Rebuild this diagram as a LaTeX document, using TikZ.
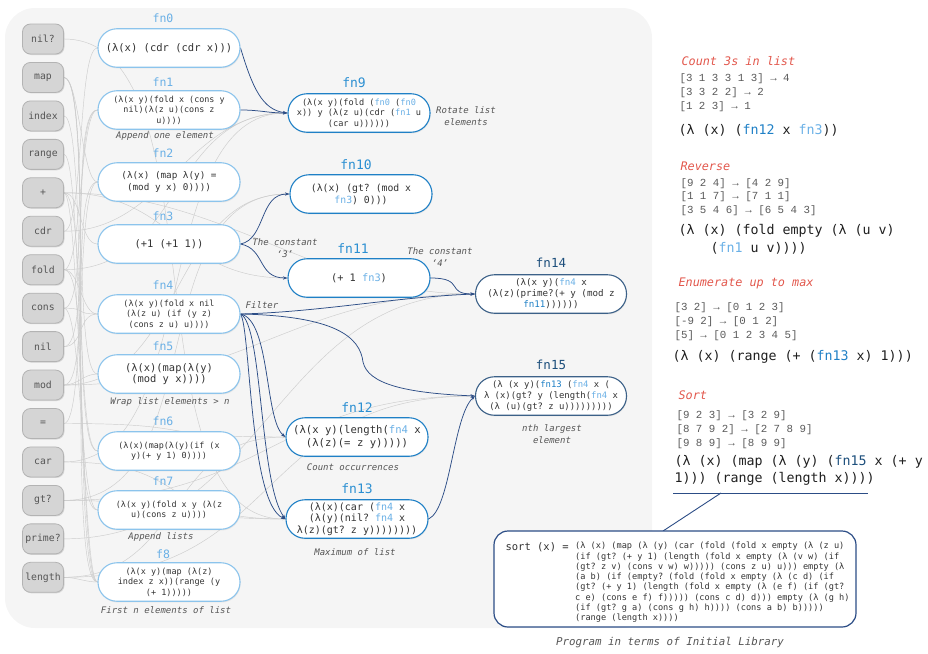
\documentclass[tikz,border=0pt]{standalone}
\usepackage{fontspec}
\setmainfont{DejaVu Sans}
\setmonofont{DejaVu Sans Mono}
\newfontfamily\exfont{Liberation Mono}
\usetikzlibrary{arrows.meta,shadows,backgrounds}
\definecolor{panel}{HTML}{F5F5F5}
\definecolor{lblue}{HTML}{8CC4EC}
\definecolor{lbluet}{HTML}{6AB0E6}
\definecolor{mblue}{HTML}{1F80C6}
\definecolor{mbluet}{HTML}{2B8FD2}
\definecolor{dblue}{HTML}{3C6188}
\definecolor{dbluet}{HTML}{1D4F7C}
\definecolor{navy}{HTML}{2C4D86}
\definecolor{txt}{HTML}{333333}
\definecolor{capgray}{HTML}{555555}
\definecolor{redt}{HTML}{E2574C}
\definecolor{exgray}{HTML}{5A5A5A}
\definecolor{primfill}{HTML}{D5D5D5}
\definecolor{primdraw}{HTML}{B3B3B3}
\definecolor{edgegray}{HTML}{CDCDCD}
\newcommand{\fs}[2]{\fontsize{#1}{#2}\selectfont}
\newcommand{\la}[1]{\textcolor{lbluet}{#1}}
\newcommand{\ma}[1]{\textcolor{mblue}{#1}}
\newcommand{\da}[1]{\textcolor{dbluet}{#1}}
\tikzset{
 prim/.style={draw=primdraw, fill=primfill, rounded corners=8pt, minimum width=41pt, minimum height=30pt, inner sep=0pt, font=\ttfamily\fs{9.8}{11}, text=capgray, line width=0.8pt, drop shadow={shadow xshift=1pt, shadow yshift=-1pt, opacity=0.25}},
 fnbox/.style={draw, fill=white, rounded corners=19pt, minimum width=142pt, minimum height=38.5pt, inner sep=1pt, align=center, text=txt, line width=1.1pt, drop shadow={shadow xshift=0.6pt, shadow yshift=-1.2pt, opacity=0.15}},
 lbox/.style={fnbox, draw=lblue},
 mbox/.style={fnbox, draw=mblue},
 dbox/.style={fnbox, draw=dblue, minimum width=151pt},
 flab/.style={font=\ttfamily\fs{11.5}{12}},
 mlab/.style={font=\ttfamily\fs{13}{14}},
 capt/.style={font=\ttfamily\itshape\fs{9}{11.5}, text=capgray, align=center},
 gline/.style={draw=edgegray, line width=0.45pt},
 garrow/.style={gline, -{Stealth[length=3pt,width=2.4pt]}},
 dedge/.style={draw=navy, line width=0.75pt, -{Stealth[length=4.5pt,width=3.2pt]}},
 ttl/.style={anchor=west, font=\ttfamily\itshape\fs{11.8}{13}, text=redt},
 exl/.style={anchor=west, font=\exfont\fs{10.8}{12}, text=exgray},
 form/.style={anchor=west, font=\ttfamily\fs{13.3}{15}, text=black!88},
}
\begin{document}
\begin{tikzpicture}[x=1pt,y=-1pt]
\useasboundingbox (0,0) rectangle (928,653);
% primitives
\foreach \n/\t [count=\i from 0] in {nilq/nil?, map/map, index/index, range/range, plus/+, cdr/cdr, fold/fold, cons/cons, nil/nil, mod/mod, eq/=, car/car, gt/gt?, prime/prime?, length/length}
  \node[prim] (\n) at (43, 39+38.45*\i) {\t};
% left column
\node[lbox, font=\ttfamily\fs{10.5}{12}] (fn0) at (169,48) {(λ(x) (cdr (cdr x)))};
\node[lbox, font=\ttfamily\fs{8.4}{10.5}] (fn1) at (169,110) {(λ(x y)(fold x (cons y\\nil)(λ(z u)(cons z\\u))))};
\node[lbox, font=\ttfamily\fs{9.3}{11.5}] (fn2) at (169,182) {(λ(x) (map λ(y) =\\(mod y x) 0))))};
\node[lbox, font=\ttfamily\fs{10.4}{12}] (fn3) at (169,244) {(+1 (+1 1))};
\node[lbox, font=\ttfamily\fs{8.4}{10.5}] (fn4) at (169,314) {(λ(x y)(fold x nil\\(λ(z u) (if (y z)\\(cons z u) u))))};
\node[lbox, font=\ttfamily\fs{10.4}{11.5}] (fn5) at (169,374) {(λ(x)(map(λ(y)\\(mod y x))))};
\node[lbox, font=\ttfamily\fs{8.4}{10.5}] (fn6) at (169,451) {(λ(x)(map(λ(y)(if (x\\y)(+ y 1) 0))))};
\node[lbox, font=\ttfamily\fs{8.4}{10.5}] (fn7) at (169,510) {(λ(x y)(fold x y (λ(z\\u)(cons z u))))};
\node[lbox, font=\ttfamily\fs{8.5}{10.5}] (f8) at (169,582) {(λ(x y)(map (λ(z)\\index z x))(range (y\\(+ 1)))))};
\foreach \n/\t/\y in {l0/fn0/18, l1/fn1/82, l2/fn2/153, l3/fn3/216, l4/fn4/285, l5/fn5/346, l6/fn6/421, l7/fn7/481, l8/f8/554}
  \node[flab, text=lbluet] (\n) at (163,\y) {\t};
\node[capt] (c1) at (165,136) {Append one element};
\node[capt] (c5) at (170,402) {Wrap list elements > n};
\node[capt] (c7) at (161,537) {Append lists};
\node[capt] (c8) at (166,610) {First n elements of list};
% middle column
\node[mbox, font=\ttfamily\fs{8.6}{10.5}] (fn9) at (359,113) {(λ(x y)(fold (\la{fn0} (\la{fn0}\\x)) y (λ(z u)(cdr (\la{fn1} u\\(car u))))))};
\node[mbox, font=\ttfamily\fs{9.8}{12}] (fn10) at (361,194) {(λ(x) (gt? (mod x\\\la{fn3}) 0)))};
\node[mbox, font=\ttfamily\fs{10.3}{12}] (fn11) at (359,278) {(+ 1 \la{fn3})};
\node[mbox, font=\ttfamily\fs{10.6}{12.5}] (fn12) at (357,437) {(λ(x y)(length(\la{fn4} x\\(λ(z)(= z y)))))};
\node[mbox, font=\ttfamily\fs{10}{11.5}] (fn13) at (357,519) {(λ(x)(car (\la{fn4} x\\(λ(y)(nil? \la{fn4} x\\λ(z)(gt? z y))))))))};
\node[mlab, text=mbluet] (l9) at (354,83) {fn9};
\node[mlab, text=mbluet] (l10) at (356,165) {fn10};
\node[mlab, text=mbluet] (l11) at (353,249) {fn11};
\node[mlab, text=mbluet] (l12) at (357,408) {fn12};
\node[mlab, text=mbluet] (l13) at (357,489) {fn13};
\node[dbox, font=\ttfamily\fs{9.2}{11}] (fn14) at (551,294) {(λ(x y)(\la{fn4} x\\(λ(z)(prime?(+ y (mod z\\\ma{fn11}))))))};
\node[dbox, font=\ttfamily\fs{8.9}{10.8}] (fn15) at (551,396) {(λ (x y)(\ma{fn13} (\la{fn4} x (\\λ (x)(gt? y (length(\la{fn4} x\\(λ (u)(gt? z u)))))))))};
\node[mlab, font=\ttfamily\fs{12.5}{14}, text=dbluet] (l14) at (551,263) {fn14};
\node[mlab, font=\ttfamily\fs{12.5}{14}, text=dbluet] (l15) at (551,365) {fn15};
\node[capt] (c9) at (466,116) {Rotate list\\elements};
\node[capt] (cc3) at (285,248) {The constant\\‘3’};
\node[capt] (cc4) at (440,257) {The constant\\‘4’};
\node[capt] (cfil) at (262,305) {Filter};
\node[capt] (c12) at (353,467) {Count occurrences};
\node[capt] (c13) at (355,552) {Maximum of list};
\node[capt] (c15) at (552,434) {nth largest\\element};
% right panel
\node[ttl] (t1) at (678,61) {Count 3s in list};
\node[exl] (e11) at (676,79) {[3 1 3 3 1 3] → 4};
\node[exl] (e12) at (676,93) {[3 3 2 2] → 2};
\node[exl] (e13) at (676,107) {[1 2 3] → 1};
\node[form] (f1) at (675,130) {(λ (x) (\ma{fn12} x \la{fn3}))};
\node[ttl] (t2) at (677,166) {Reverse};
\node[exl] (e21) at (677,184) {[9 2 4] → [4 2 9]};
\node[exl] (e22) at (677,197) {[1 1 7] → [7 1 1]};
\node[exl] (e23) at (677,211) {[3 5 4 6] → [6 5 4 3]};
\node[form] (f2a) at (675,231) {(λ (x) (fold empty (λ (u v)};
\node[form] (f2b) at (707,248) {(\la{fn1} u v))))};
\node[ttl] (t3) at (675,283) {Enumerate up to max};
\node[exl] (e31) at (671,308) {[3 2] → [0 1 2 3]};
\node[exl] (e32) at (671,322) {[-9 2] → [0 1 2]};
\node[exl] (e33) at (671,336) {[5] → [0 1 2 3 4 5]};
\node[form] (f3) at (669,357) {(λ (x) (range (+ (\ma{fn13} x) 1)))};
\node[ttl] (t4) at (675,395) {Sort};
\node[exl] (e41) at (673,416) {[9 2 3] → [3 2 9]};
\node[exl] (e42) at (673,430) {[8 7 9 2] → [2 7 8 9]};
\node[exl] (e43) at (673,444) {[9 8 9] → [8 9 9]};
\node[form] (f4a) at (671,462) {(λ (x) (map (λ (y) (\da{fn15} x (+ y};
\node[form] (f4b) at (671,479) {1))) (range (length x))))};
\coordinate (ulA) at (673,493);
\coordinate (ulB) at (868,493);
\coordinate (ulC) at (721,493);
\coordinate (sbTop) at (663,531);
\draw[navy, line width=1pt] (ulA) -- (ulB);
\draw[navy, line width=0.9pt] (ulC) -- (sbTop);
\node[draw=navy, line width=1.2pt, rounded corners=14pt, fill=white, minimum width=362pt, minimum height=96pt, inner sep=0pt] (sortbox) at (675,579) {};
\node[anchor=west, font=\ttfamily\fs{10.5}{12}, text=txt] (sortlbl) at (502,547) {sort (x) =};
\node[anchor=north west, align=left, inner sep=0pt, font=\ttfamily\fs{8.6}{10.3}, text=txt] (sortcode) at (575,542) {(λ (x) (map (λ (y) (car (fold (fold x empty (λ (z u)\\(if (gt? (+ y 1) (length (fold x empty (λ (v w) (if\\(gt? z v) (cons v w) w))))) (cons z u) u))) empty (λ\\(a b) (if (empty? (fold (fold x empty (λ (c d) (if\\(gt? (+ y 1) (length (fold x empty (λ (e f) (if (gt?\\c e) (cons e f) f))))) (cons c d) d))) empty (λ (g h)\\(if (gt? g a) (cons g h) h)))) (cons a b) b)))))\\(range (length x))))};
\node[capt, font=\ttfamily\itshape\fs{10.8}{12}] (prog) at (670,643) {Program in terms of Initial Library};
\coordinate (k15) at (363,362);
% edges
\begin{pgfonlayer}{background}
\fill[panel, rounded corners=30pt] (5,8) rectangle (652,628);
\foreach \a/\b/\c in {cdr/fn0/20, fold/fn1/18, cons/fn1/25, nil/fn1/30, map/fn2/15, eq/fn2/22, mod/fn2/28, plus/fn3/18, fold/fn4/16, nil/fn4/20, cons/fn4/24, map/fn5/26, mod/fn5/14, map/fn6/30, plus/fn6/22, fold/fn7/28, cons/fn7/18, map/f8/34, index/f8/26, range/f8/20, plus/f8/16, length/f8/12}
  \draw[gline] (\a.east) .. controls +(\c,0) and +(-\c,0) .. (\b.west);
\foreach \a/\b/\c in {fold/fn9/120, cdr/fn9/100, car/fn9/140, gt/fn10/150, mod/fn10/120, plus/fn11/110, length/fn12/120, eq/fn12/140, car/fn13/130, nilq/fn13/160, gt/fn13/110, prime/fn14/200, plus/fn14/160, mod/fn14/180, gt/fn15/200, length/fn15/220}
  \draw[garrow] (\a.east) .. controls +(\c,0) and +(-\c,0) .. (\b.west);
\draw[dedge] (fn0.east) .. controls +(12,40) and +(-25,-3) .. (fn9.west);
\draw[dedge] (fn1.east) .. controls +(20,0) and +(-20,0) .. (fn9.west);
\draw[dedge] (fn3.east) .. controls +(25,-5) and +(-30,0) .. (fn10.west);
\draw[dedge] (fn3.east) .. controls +(25,5) and +(-30,0) .. (fn11.west);
\draw[dedge] (fn11.east) .. controls +(35,0) and +(-30,0) .. (fn14.west);
\draw[dedge] (fn4.east) .. controls +(80,-2) and +(-80,3) .. (fn14.west);
\draw[dedge] (fn4.east) .. controls +(95,2) and +(-3,-25) .. (k15) .. controls +(5,22) and +(-70,-3) .. (fn15.west);
\draw[dedge] (fn4.east) .. controls +(30,6) and +(-21,-17) .. (fn12.west);
\draw[dedge] (fn4.east) .. controls +(22,10) and +(-26,-35) .. (fn13.west);
\draw[dedge] (fn4.east) .. controls +(10,15) and +(-36,-15) .. (fn13.west);
\draw[dedge] (fn13.east) .. controls +(22,-10) and +(-22,20) .. (fn15.west);
\end{pgfonlayer}
\end{tikzpicture}
\end{document}
